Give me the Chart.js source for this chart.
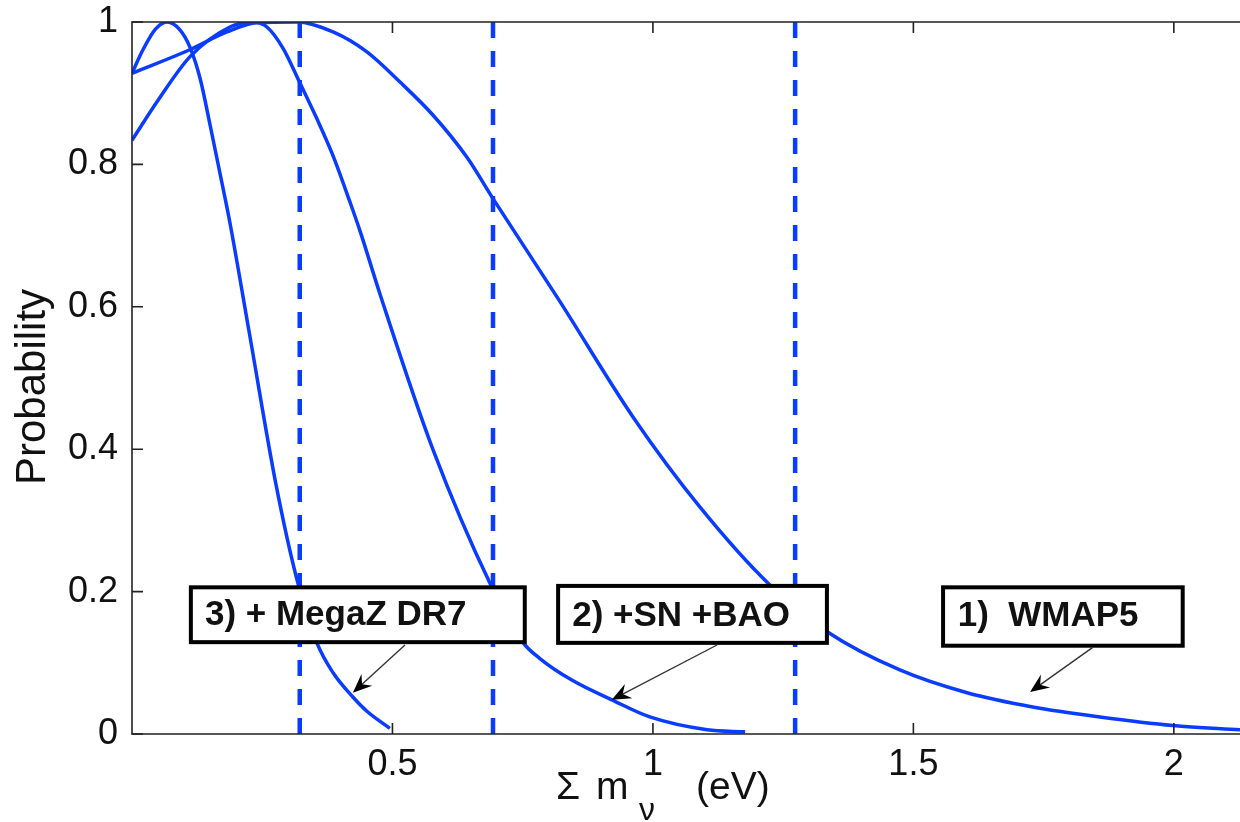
<!DOCTYPE html>
<html><head><meta charset="utf-8">
<script src="https://cdn.jsdelivr.net/npm/chart.js@4/dist/chart.umd.min.js"></script>
<style>html,body{margin:0;padding:0;background:#fff;overflow:hidden}#wrap{width:1240px;height:822px;position:relative}</style>
</head><body><div id="wrap"><canvas id="c" width="1240" height="822"></canvas></div>
<script>
// ---- data ----
const X_TICKS = [0.5, 1, 1.5, 2];
const Y_TICKS = [0, 0.2, 0.4, 0.6, 0.8, 1];

const WMAP5_X = [0, 0.111, 0.182, 0.240, 0.317, 0.386, 0.451, 0.514, 0.578, 0.643, 0.693, 0.821, 0.962, 1.090, 1.225, 1.336, 1.474, 1.603, 1.729, 1.858, 1.998, 2.127];
const WMAP5_Y = [0.928, 0.961, 0.986, 0.999, 1.0, 0.986, 0.958, 0.916, 0.869, 0.810, 0.752, 0.608, 0.445, 0.319, 0.209, 0.143, 0.090, 0.058, 0.038, 0.024, 0.012, 0.006];

const SNBAO_X = [0, 0.05, 0.111, 0.188, 0.232, 0.259, 0.290, 0.322, 0.355, 0.386, 0.418, 0.438, 0.476, 0.578, 0.687, 0.750, 0.783, 0.846, 0.921, 0.994, 1.104, 1.177];
const SNBAO_Y = [0.834, 0.890, 0.951, 0.993, 1.0, 0.993, 0.963, 0.915, 0.864, 0.812, 0.748, 0.706, 0.618, 0.399, 0.212, 0.129, 0.106, 0.075, 0.048, 0.024, 0.006, 0.003];

const MEGAZ_X = [0, 0.021, 0.045, 0.067, 0.092, 0.111, 0.131, 0.150, 0.169, 0.188, 0.226, 0.276, 0.317, 0.355, 0.386, 0.424, 0.451, 0.495];
const MEGAZ_Y = [0.928, 0.961, 0.990, 1.0, 0.989, 0.965, 0.920, 0.855, 0.787, 0.718, 0.560, 0.352, 0.216, 0.128, 0.086, 0.052, 0.032, 0.008];

const LIMITS = [0.322, 0.693, 1.273];
const LABELS = ['1)  WMAP5', '2) +SN +BAO', '3) + MegaZ DR7'];

// ---- styling / layout ----
const BLUE = '#0a3cff';
const FONT = '"Liberation Sans", Arial, Helvetica, sans-serif';

const xy = (xs, ys) => xs.map((x, i) => ({x, y: ys[i]}));
const curveDs = (label, xs, ys) => ({label, data: xy(xs, ys), borderColor: BLUE, borderWidth: 3.5,
  pointRadius: 0, cubicInterpolationMode: 'monotone', fill: false});
const limitDs = v => ({label: 'limit', data: [{x: v, y: 0}, {x: v, y: 1}], borderColor: BLUE,
  borderWidth: 4.5, borderDash: [16, 13], pointRadius: 0, fill: false});

// annotation boxes in data coordinates: [x0, x1, yTop, yBottom]
const ANNOTS = [
  {text: LABELS[0], box: [1.557, 2.017, 0.206, 0.124], tx: 1.585, ty: 0.165, from: [1.845, 0.122], to: [1.724, 0.059]},
  {text: LABELS[1], box: [0.818, 1.334, 0.208, 0.128], tx: 0.845, ty: 0.165, from: [1.123, 0.125], to: [0.921, 0.048]},
  {text: LABELS[2], box: [0.113, 0.754, 0.206, 0.129], tx: 0.140, ty: 0.167, from: [0.524, 0.125], to: [0.424, 0.058]}
];

const deco = {
  id: 'deco',
  afterDatasetsDraw(chart) {
    const {ctx, chartArea: a, scales: {x, y}} = chart;
    ctx.save();
    ANNOTS.forEach(an => {
      const x0 = x.getPixelForValue(an.box[0]), x1 = x.getPixelForValue(an.box[1]);
      const y0 = y.getPixelForValue(an.box[2]), y1 = y.getPixelForValue(an.box[3]);
      ctx.fillStyle = '#fff';
      ctx.fillRect(x0, y0, x1 - x0, y1 - y0);
      ctx.strokeStyle = '#000'; ctx.lineWidth = 4; ctx.setLineDash([]);
      ctx.strokeRect(x0, y0, x1 - x0, y1 - y0);
      ctx.fillStyle = '#111';
      ctx.font = 'bold 35px ' + FONT;
      ctx.textAlign = 'left'; ctx.textBaseline = 'middle';
      ctx.fillText(an.text, x.getPixelForValue(an.tx), y.getPixelForValue(an.ty));
      const fx = x.getPixelForValue(an.from[0]), fy = y.getPixelForValue(an.from[1]);
      const tx = x.getPixelForValue(an.to[0]), ty = y.getPixelForValue(an.to[1]);
      const L = Math.hypot(tx - fx, ty - fy), dx = (tx - fx) / L, dy = (ty - fy) / L;
      const nx = -dy, ny = dx, len = 19, hw = 8;
      ctx.strokeStyle = '#333'; ctx.lineWidth = 1.4;
      ctx.beginPath(); ctx.moveTo(fx, fy); ctx.lineTo(tx - dx * 8, ty - dy * 8); ctx.stroke();
      ctx.fillStyle = '#000';
      ctx.beginPath();
      ctx.moveTo(tx, ty);
      ctx.lineTo(tx - dx * len + nx * hw, ty - dy * len + ny * hw);
      ctx.lineTo(tx - dx * len * 0.65, ty - dy * len * 0.65);
      ctx.lineTo(tx - dx * len - nx * hw, ty - dy * len - ny * hw);
      ctx.closePath(); ctx.fill();
    });
    // axes frame
    ctx.strokeStyle = '#222'; ctx.lineWidth = 1.6;
    ctx.beginPath();
    ctx.moveTo(a.right + 2, a.top); ctx.lineTo(a.left, a.top); ctx.lineTo(a.left, a.bottom); ctx.lineTo(a.right + 2, a.bottom);
    ctx.stroke();
    // inward ticks
    ctx.beginPath();
    X_TICKS.forEach(v => {
      const px = x.getPixelForValue(v);
      ctx.moveTo(px, a.bottom); ctx.lineTo(px, a.bottom - 11);
      ctx.moveTo(px, a.top); ctx.lineTo(px, a.top + 11);
    });
    Y_TICKS.forEach(v => {
      const py = y.getPixelForValue(v);
      ctx.moveTo(a.left, py); ctx.lineTo(a.left + 11, py);
    });
    ctx.stroke();
    // y title
    ctx.fillStyle = '#111';
    ctx.save();
    ctx.translate(33, 387); ctx.rotate(-Math.PI / 2);
    ctx.font = '42px ' + FONT; ctx.textAlign = 'center'; ctx.textBaseline = 'middle';
    ctx.fillText('Probability', 0, 0);
    ctx.restore();
    // x title: Σ m_ν (eV)  (the "1" above ν is the x tick label)
    ctx.textAlign = 'left'; ctx.textBaseline = 'alphabetic';
    ctx.font = '39px ' + FONT;
    ctx.fillText('Σ', 556, 799);
    ctx.fillText('m', 596, 799);
    ctx.fillText('(eV)', 696, 799);
    ctx.font = '32px ' + FONT;
    ctx.fillText('ν', 639, 820);
    ctx.restore();
  }
};

new Chart(document.getElementById('c'), {
  type: 'scatter',
  data: {
    datasets: [
      curveDs(LABELS[0], WMAP5_X, WMAP5_Y),
      curveDs(LABELS[1], SNBAO_X, SNBAO_Y),
      curveDs(LABELS[2], MEGAZ_X, MEGAZ_Y),
      ...LIMITS.map(limitDs)
    ].map(d => Object.assign(d, {showLine: true}))
  },
  options: {
    responsive: false,
    animation: false,
    events: [],
    layout: {padding: {top: 22, right: 0, left: 0, bottom: 0}},
    plugins: {legend: {display: false}, tooltip: {enabled: false}},
    scales: {
      x: {
        type: 'linear', min: 0, max: 2.127,
        afterBuildTicks: s => { s.ticks = X_TICKS.map(v => ({value: v})); },
        afterFit: s => { s.height = 88; s.paddingLeft = 0; s.paddingRight = 0; s.paddingTop = 0; s.paddingBottom = 0; },
        grid: {display: false, drawTicks: false},
        border: {display: false},
        ticks: {font: {size: 36, family: FONT}, color: '#111', padding: 9, maxRotation: 0, autoSkip: false,
          callback: v => String(v)}
      },
      y: {
        type: 'linear', min: 0, max: 1,
        afterBuildTicks: s => { s.ticks = Y_TICKS.map(v => ({value: v})); },
        afterFit: s => { s.width = 132; s.paddingTop = 0; s.paddingBottom = 0; s.paddingLeft = 0; s.paddingRight = 0; },
        grid: {display: false, drawTicks: false},
        border: {display: false},
        ticks: {font: {size: 36, family: FONT}, color: '#111', padding: 14, autoSkip: false,
          callback: v => String(+Number(v).toFixed(2))}
      }
    }
  },
  plugins: [deco]
});
</script>
</body></html>
